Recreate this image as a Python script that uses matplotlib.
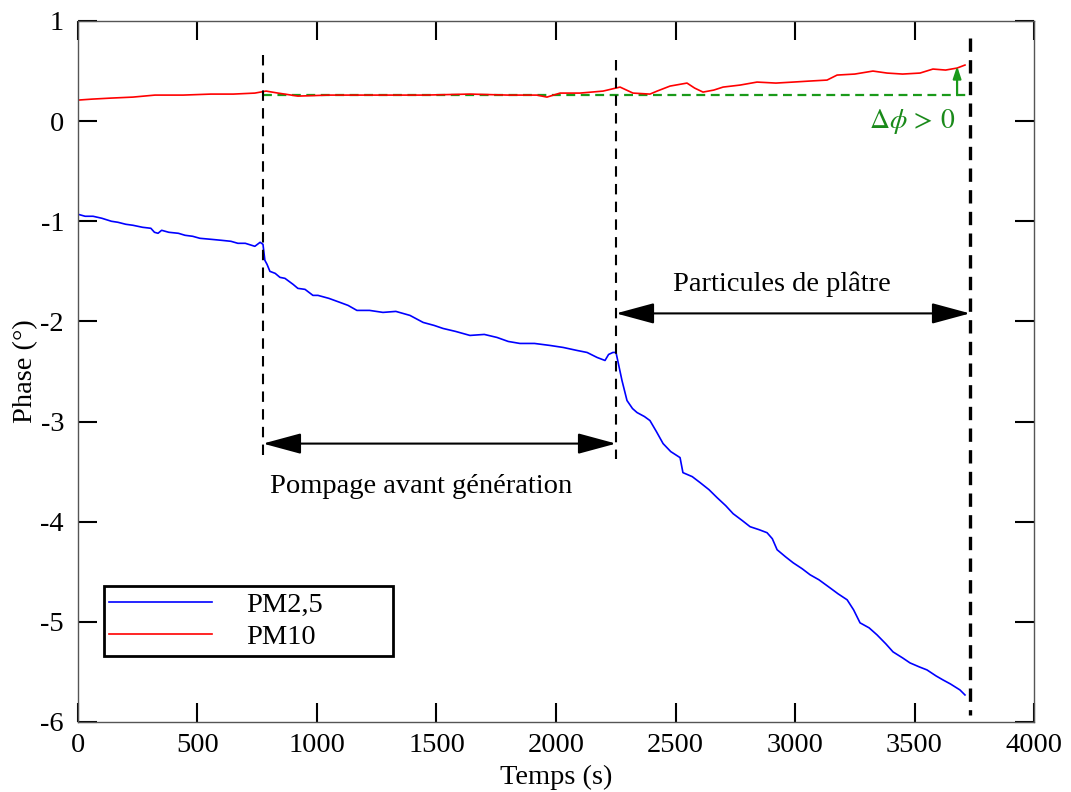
import matplotlib
matplotlib.use("Agg")
import matplotlib.pyplot as plt

plt.rcParams['font.family'] = ['Liberation Serif', 'DejaVu Serif']
plt.rcParams['mathtext.fontset'] = 'stix'
plt.rcParams['axes.unicode_minus'] = False

# PM2.5 series (time s, phase deg)
t_pm25 = [0, 30, 63, 100, 140, 167, 200, 230, 270, 305, 320, 335, 350, 380, 420, 448,
          480, 510, 556, 600, 640, 669, 700, 740, 762, 774,
          782, 791, 803, 825, 845, 866, 900, 920, 950, 983, 1004, 1050, 1096, 1130,
          1167, 1220, 1276, 1330, 1389, 1444, 1490, 1527, 1580, 1640, 1700, 1753,
          1800, 1849, 1910, 1975, 2030, 2088, 2130, 2172, 2205, 2220, 2238, 2251,
          2276, 2297, 2320, 2339, 2370, 2393, 2420, 2448, 2480, 2519, 2531, 2570,
          2603, 2640, 2674, 2710, 2741, 2780, 2812, 2850, 2883, 2905, 2925, 2960,
          2992, 3030, 3063, 3100, 3146, 3180, 3218, 3245, 3272, 3310, 3343, 3380,
          3410, 3450, 3481, 3520, 3552, 3590, 3619, 3650, 3690, 3711]
v_pm25 = [-0.93, -0.95, -0.95, -0.97, -1.00, -1.01, -1.03, -1.04, -1.06, -1.07, -1.11,
          -1.12, -1.09, -1.11, -1.12, -1.14,
          -1.15, -1.17, -1.18, -1.19, -1.20, -1.22, -1.22, -1.25, -1.21, -1.23,
          -1.39, -1.43, -1.50, -1.52, -1.56, -1.57, -1.63, -1.67, -1.68, -1.74, -1.74,
          -1.77, -1.81, -1.84, -1.89, -1.89, -1.91, -1.90, -1.94, -2.01, -2.04, -2.07,
          -2.10, -2.14, -2.13, -2.16, -2.20, -2.22, -2.22, -2.24, -2.26, -2.29, -2.31,
          -2.36, -2.39, -2.33, -2.31, -2.31,
          -2.59, -2.79, -2.87, -2.91, -2.95, -2.99, -3.10, -3.22, -3.30, -3.36, -3.51,
          -3.55, -3.61, -3.68, -3.76, -3.84, -3.92, -3.99, -4.05, -4.08, -4.11, -4.17,
          -4.28, -4.35, -4.41, -4.47, -4.53, -4.58, -4.66, -4.72, -4.78, -4.88, -5.01,
          -5.06, -5.13, -5.22, -5.30, -5.36, -5.41, -5.45, -5.48, -5.54, -5.58, -5.62,
          -5.68, -5.73]

# PM10 series (time s, phase deg)
t_pm10 = [0, 60, 138, 230, 322, 440, 556, 650, 740, 787, 837, 920, 1050, 1222, 1255,
          1450, 1640, 1800, 1920, 1962, 2017, 2100, 2197, 2268, 2322, 2393, 2423, 2477,
          2548, 2580, 2615, 2660, 2699, 2770, 2841, 2920, 2992, 3060, 3134, 3176, 3250,
          3326, 3385, 3450, 3523, 3577, 3630, 3678, 3711]
v_pm10 = [0.21, 0.22, 0.23, 0.24, 0.26, 0.26, 0.27, 0.27, 0.28, 0.30, 0.28, 0.25, 0.26,
          0.26, 0.26, 0.26, 0.27, 0.26, 0.26, 0.24, 0.28, 0.28, 0.30, 0.34, 0.28, 0.27,
          0.30, 0.35, 0.38, 0.33, 0.29, 0.31, 0.34, 0.36, 0.39, 0.38, 0.39, 0.40, 0.41,
          0.46, 0.47, 0.50, 0.48, 0.47, 0.48, 0.52, 0.51, 0.53, 0.56]

labels = ["PM2,5", "PM10"]
x_ticks = [0, 500, 1000, 1500, 2000, 2500, 3000, 3500, 4000]
y_ticks = [-6, -5, -4, -3, -2, -1, 0, 1]

# annotation values
t_marks = [774, 2251, 3732]
green_level = 0.26
green_arrow_t = 3678
green_arrow_top = 0.55

FS = 20.5

fig = plt.figure(figsize=(10.71, 7.92), dpi=100)
ax = fig.add_axes([0.0728, 0.0884, 0.8927, 0.8851])

ax.plot(t_pm25, v_pm25, color='#0000ff', lw=1.2, label=labels[0])
ax.plot(t_pm10, v_pm10, color='#ff0000', lw=1.2, label=labels[1])

# vertical dashed markers
ax.plot([t_marks[0]] * 2, [0.66, -3.37], color='black', ls=(0, (5, 3.5)), lw=1.5)
ax.plot([t_marks[1]] * 2, [0.61, -3.37], color='black', ls=(0, (5, 3.5)), lw=1.5)
ax.plot([t_marks[2]] * 2, [0.83, -5.93], color='black', ls=(0, (4, 2.5)), lw=2.4)

# green reference and arrow
ax.plot([t_marks[0], t_marks[2]], [green_level, green_level], color='#1a9a1a',
        ls=(0, (4, 2.5)), lw=1.6, zorder=1)
ax.annotate('', xy=(green_arrow_t, green_arrow_top), xytext=(green_arrow_t, green_level),
            arrowprops=dict(arrowstyle='-|>,head_length=0.6,head_width=0.2',
                            color='#1a9a1a', lw=1.6,
                            mutation_scale=12, shrinkA=0, shrinkB=0))
ax.text(3490, 0.0, r'$\Delta\phi\,>\,0$', color='#1a8a1a', fontsize=20,
        ha='center', va='center')

# double arrows
arrow_kw = dict(arrowstyle='<|-|>,head_length=0.85,head_width=0.23', color='black',
                lw=1.5, mutation_scale=28, shrinkA=0, shrinkB=0)
ax.annotate('', xy=(t_marks[0], -3.22), xytext=(t_marks[1], -3.22), arrowprops=arrow_kw)
ax.annotate('', xy=(t_marks[1], -1.92), xytext=(t_marks[2], -1.92), arrowprops=arrow_kw)
ax.text(1435, -3.65, 'Pompage avant génération', fontsize=FS, ha='center', va='center')
ax.text(2946, -1.63, 'Particules de plâtre', fontsize=FS, ha='center', va='center')

ax.set_xlim(0, 4000)
ax.set_ylim(-6, 1)
ax.set_xticks(x_ticks)
ax.set_yticks(y_ticks)
ax.tick_params(direction='in', length=14, width=1.5, top=True, right=True,
               labelsize=FS, pad=8)
ax.tick_params(axis='y', pad=10)
for s in ax.spines.values():
    s.set_color('#555555')
    s.set_linewidth(1.0)
ax.set_xlabel('Temps (s)', fontsize=FS, labelpad=5)
ax.set_ylabel('Phase (°)', fontsize=FS, labelpad=2)

leg = ax.legend(loc='upper left', bbox_to_anchor=(0.027, 0.093, 0.303, 0.101),
                mode='expand', fontsize=FS, frameon=True, fancybox=False,
                handlelength=3.6, handletextpad=1.2, borderpad=0.2,
                labelspacing=0.22, borderaxespad=0)
leg.get_frame().set_edgecolor('black')
leg.get_frame().set_linewidth(2.0)
leg.get_frame().set_alpha(1)

fig.savefig('out.png', dpi=100)
